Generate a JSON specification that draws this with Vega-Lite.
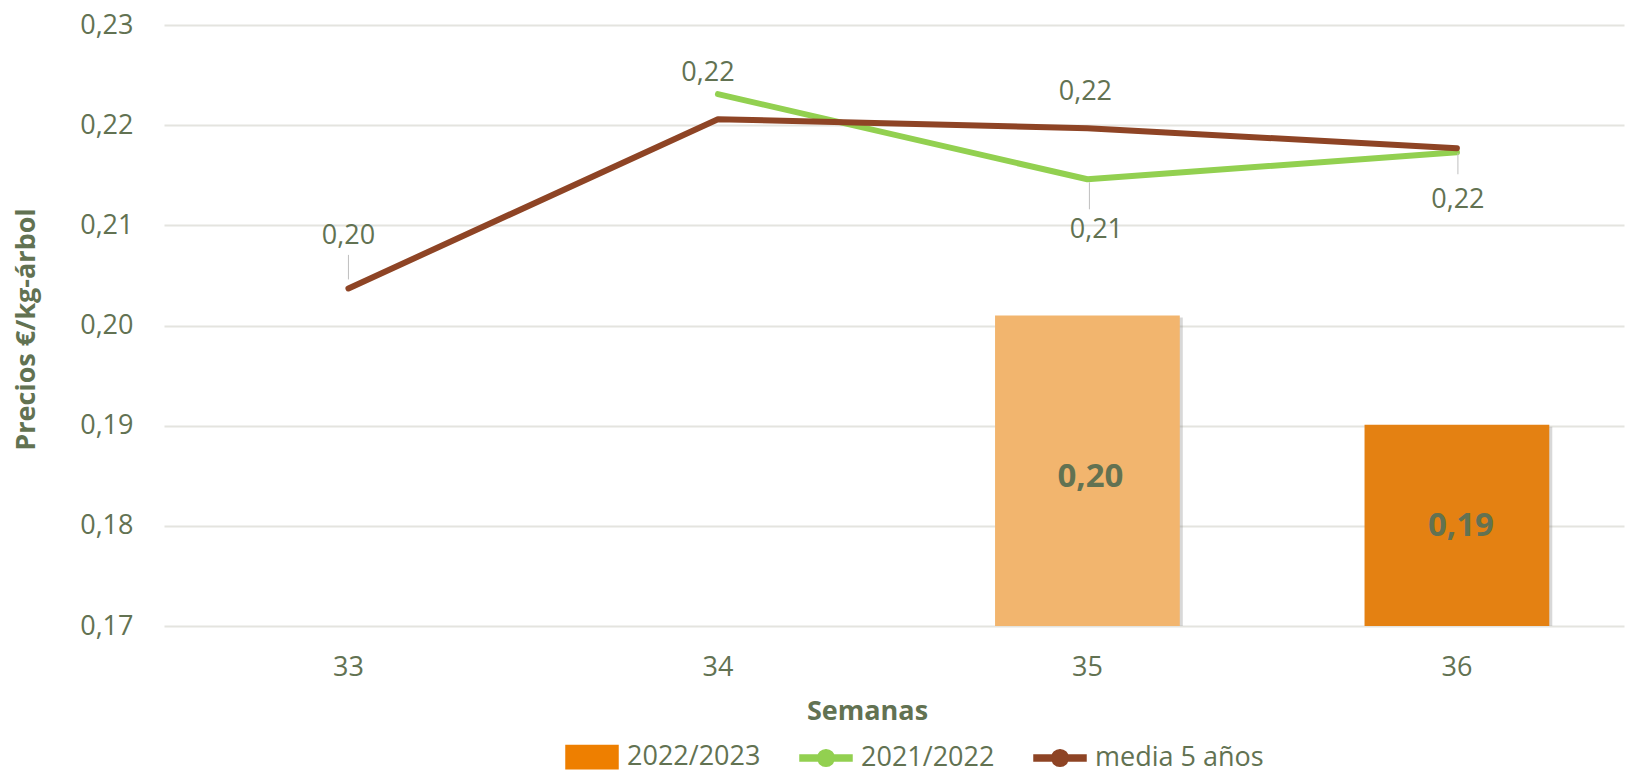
{
  "$schema": "https://vega.github.io/schema/vega-lite/v6.json",
  "width": 1460,
  "height": 601,
  "autosize": {"type": "none"},
  "padding": {"left": 164, "top": 25, "right": 2, "bottom": 149},
  "background": "white",
  "config": {
    "locale": {"number": {"decimal": ",", "thousands": ".", "grouping": [3], "currency": ["", " €"]}},
    "view": {"stroke": null},
    "font": "Open Sans",
    "axis": {"labelFont": "Open Sans", "labelColor": "#627252", "titleFont": "Open Sans", "titleColor": "#627252"}
  },
  "data": {"values": [
    {"week": "33", "series": "media 5 años", "value": 0.2037},
    {"week": "34", "series": "media 5 años", "value": 0.2206},
    {"week": "35", "series": "media 5 años", "value": 0.2197},
    {"week": "36", "series": "media 5 años", "value": 0.2177},
    {"week": "34", "series": "2021/2022", "value": 0.2231},
    {"week": "35", "series": "2021/2022", "value": 0.2146},
    {"week": "36", "series": "2021/2022", "value": 0.2173},
    {"week": "35", "series": "2022/2023", "value": 0.2010},
    {"week": "36", "series": "2022/2023", "value": 0.1901}
  ]},
  "encoding": {
    "x": {
      "field": "week", "type": "ordinal",
      "scale": {"type": "band", "domain": ["33", "34", "35", "36"], "paddingInner": 0.5, "paddingOuter": 0.2257, "align": 0.552},
      "axis": {"title": "Semanas", "labelAngle": 0, "labelFontSize": 27, "labelPadding": 28, "domain": false, "ticks": false, "grid": false,
               "titleFontSize": 27, "titleFontWeight": "bold", "titleX": 703, "titleY": 85, "titleBaseline": "middle", "titleAnchor": "middle"}
    }
  },
  "layer": [
    {
      "transform": [{"filter": "datum.series === '2022/2023'"}],
      "mark": {"type": "bar", "color": "#7F7F7F", "opacity": 0.3, "xOffset": 3, "yOffset": 2},
      "encoding": {
        "y": {"field": "value", "type": "quantitative",
              "scale": {"domain": [0.17, 0.23], "zero": false, "nice": false},
              "axis": {"title": "Precios €/kg-árbol", "values": [0.17, 0.18, 0.19, 0.2, 0.21, 0.22, 0.23], "format": ".2f",
                       "labelFontSize": 27, "labelPadding": 31, "domain": false, "ticks": false,
                       "grid": true, "gridColor": "#E4E4DF", "gridWidth": 2,
                       "titleFontSize": 27, "titleFontWeight": "bold", "titleX": -138, "titleY": 304, "titleAngle": -90, "titleBaseline": "middle", "titleAnchor": "middle"}},
        "y2": {"datum": 0.17}
      }
    },
    {
      "transform": [{"filter": "datum.series === '2022/2023'"}],
      "mark": {"type": "bar"},
      "encoding": {
        "y": {"field": "value", "type": "quantitative"},
        "y2": {"datum": 0.17},
        "fill": {"field": "week", "type": "nominal", "scale": {"domain": ["35", "36"], "range": ["#F2B56E", "#E48112"]}, "legend": null}
      }
    },
    {
      "transform": [{"filter": "datum.series === '2021/2022'"}],
      "mark": {"type": "line", "strokeWidth": 6, "strokeCap": "round", "strokeJoin": "round"},
      "encoding": {
        "x": {"field": "week", "type": "ordinal", "bandPosition": 0.5},
        "y": {"field": "value", "type": "quantitative"},
        "color": {"field": "series", "type": "nominal",
                  "scale": {"domain": ["2022/2023", "2021/2022", "media 5 años"], "range": ["#EE7F00", "#92D050", "#8E4425"]},
                  "legend": {
                    "title": null, "orient": "none", "direction": "horizontal", "legendX": 414, "legendY": 718,
                    "labelFont": "Open Sans", "labelFontSize": 27, "labelColor": "#627252", "labelOffset": 21, "labelLimit": 0,
                    "symbolSize": 676, "columnPadding": 36, "padding": 0,
                    "encode": {"symbols": {"update": {
                      "shape": {"signal": "datum.value === '2022/2023' ? 'M-2,-0.9H2V0.9H-2Z' : 'M-2,-0.24H2V0.24H-2Z M0.64,0A0.64,0.64 0 1 1 -0.64,0A0.64,0.64 0 1 1 0.64,0Z'"},
                      "fill": {"signal": "datum.value === '2022/2023' ? '#EE7F00' : (datum.value === '2021/2022' ? '#92D050' : '#8E4425')"},
                      "stroke": {"signal": "datum.value === '2022/2023' ? '#92D050' : 'transparent'"},
                      "strokeWidth": {"value": 1.5},
                      "opacity": {"value": 1},
                      "fillOpacity": {"value": 1}
                    }}}
                  }}
      }
    },
    {
      "transform": [{"filter": "datum.series === 'media 5 años'"}],
      "mark": {"type": "line", "strokeWidth": 6, "strokeCap": "round", "strokeJoin": "round"},
      "encoding": {
        "x": {"field": "week", "type": "ordinal", "bandPosition": 0.5},
        "y": {"field": "value", "type": "quantitative"},
        "color": {"field": "series", "type": "nominal"}
      }
    },
    {
      "transform": [{"filter": "datum.series === 'media 5 años' && datum.week === '33'"}],
      "mark": {"type": "rule", "color": "#BFBFBF", "strokeWidth": 1},
      "encoding": {"x": {"field": "week", "type": "ordinal", "bandPosition": 0.5}, "y": {"datum": 0.20705}, "y2": {"datum": 0.2046}}
    },
    {
      "transform": [{"filter": "datum.series === '2021/2022' && datum.week === '35'"}],
      "mark": {"type": "rule", "color": "#BFBFBF", "strokeWidth": 1, "xOffset": 2},
      "encoding": {"x": {"field": "week", "type": "ordinal", "bandPosition": 0.5}, "y": {"datum": 0.2143}, "y2": {"datum": 0.2116}}
    },
    {
      "transform": [{"filter": "datum.series === '2021/2022' && datum.week === '36'"}],
      "mark": {"type": "rule", "color": "#BFBFBF", "strokeWidth": 1, "xOffset": 1},
      "encoding": {"x": {"field": "week", "type": "ordinal", "bandPosition": 0.5}, "y": {"datum": 0.2172}, "y2": {"datum": 0.2151}}
    },
    {
      "transform": [{"filter": "datum.series === 'media 5 años' && datum.week === '33'"}],
      "mark": {"type": "text", "font": "Open Sans", "fontSize": 27, "color": "#627252", "baseline": "middle", "dy": -52},
      "encoding": {"x": {"field": "week", "type": "ordinal", "bandPosition": 0.5}, "y": {"field": "value", "type": "quantitative"}, "text": {"field": "value", "type": "quantitative", "format": ".2f"}}
    },
    {
      "transform": [{"filter": "datum.series === '2021/2022' && datum.week === '34'"}],
      "mark": {"type": "text", "font": "Open Sans", "fontSize": 27, "color": "#627252", "baseline": "middle", "dy": -21, "dx": -10},
      "encoding": {"x": {"field": "week", "type": "ordinal", "bandPosition": 0.5}, "y": {"field": "value", "type": "quantitative"}, "text": {"field": "value", "type": "quantitative", "format": ".2f"}}
    },
    {
      "transform": [{"filter": "datum.series === 'media 5 años' && datum.week === '35'"}],
      "mark": {"type": "text", "font": "Open Sans", "fontSize": 27, "color": "#627252", "baseline": "middle", "dy": -36, "dx": -2},
      "encoding": {"x": {"field": "week", "type": "ordinal", "bandPosition": 0.5}, "y": {"field": "value", "type": "quantitative"}, "text": {"field": "value", "type": "quantitative", "format": ".2f"}}
    },
    {
      "transform": [{"filter": "datum.series === '2021/2022' && datum.week === '35'"}],
      "mark": {"type": "text", "font": "Open Sans", "fontSize": 27, "color": "#627252", "baseline": "middle", "dy": 51, "dx": 9},
      "encoding": {"x": {"field": "week", "type": "ordinal", "bandPosition": 0.5}, "y": {"field": "value", "type": "quantitative"}, "text": {"field": "value", "type": "quantitative", "format": ".2f"}}
    },
    {
      "transform": [{"filter": "datum.series === '2021/2022' && datum.week === '36'"}],
      "mark": {"type": "text", "font": "Open Sans", "fontSize": 27, "color": "#627252", "baseline": "middle", "dy": 48, "dx": 1},
      "encoding": {"x": {"field": "week", "type": "ordinal", "bandPosition": 0.5}, "y": {"field": "value", "type": "quantitative"}, "text": {"field": "value", "type": "quantitative", "format": ".2f"}}
    },
    {
      "transform": [{"filter": "datum.series === '2022/2023' && datum.week === '35'"}],
      "mark": {"type": "text", "font": "Open Sans", "fontSize": 33, "fontWeight": "bold", "color": "#627252", "baseline": "middle", "dy": 162, "dx": 3},
      "encoding": {"x": {"field": "week", "type": "ordinal", "bandPosition": 0.5}, "y": {"field": "value", "type": "quantitative"}, "text": {"field": "value", "type": "quantitative", "format": ".2f"}}
    },
    {
      "transform": [{"filter": "datum.series === '2022/2023' && datum.week === '36'"}],
      "mark": {"type": "text", "font": "Open Sans", "fontSize": 33, "fontWeight": "bold", "color": "#627252", "baseline": "middle", "dy": 101, "dx": 4},
      "encoding": {"x": {"field": "week", "type": "ordinal", "bandPosition": 0.5}, "y": {"field": "value", "type": "quantitative"}, "text": {"field": "value", "type": "quantitative", "format": ".2f"}}
    }
  ]
}
